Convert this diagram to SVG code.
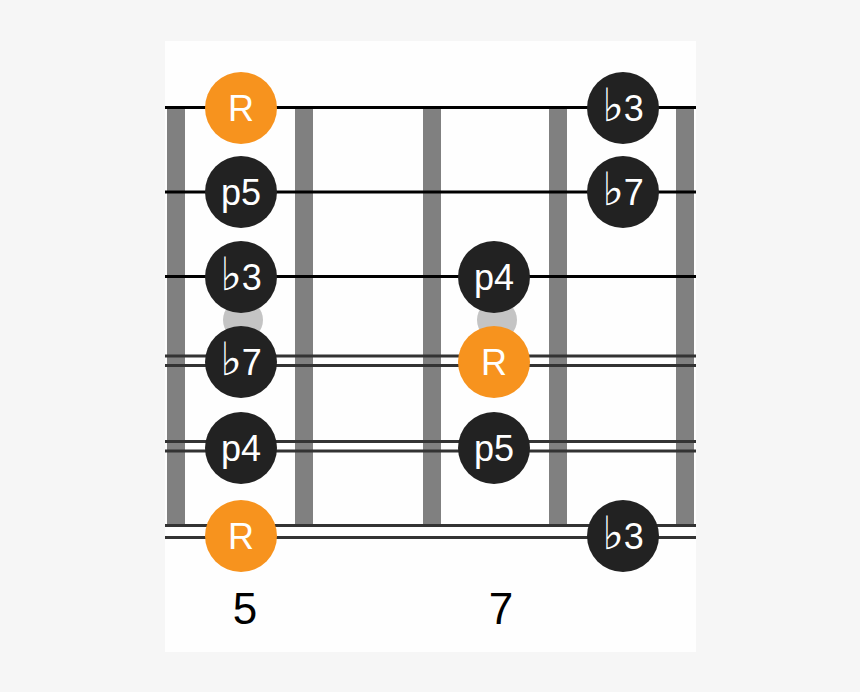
<svg xmlns="http://www.w3.org/2000/svg" width="860" height="692" viewBox="0 0 860 692">
<style>
.fret{fill:#808080}
.s{stroke:#000;stroke-width:3}
.w{stroke:#333;stroke-width:3}
.inlay{fill:#c4c4c4}
.root{fill:#f7931e}
.note{fill:#222}
.lbl{font-family:"Liberation Sans","DejaVu Sans",sans-serif;font-size:36px;fill:#fff;text-anchor:middle}
.flat{font-family:"DejaVu Sans",sans-serif;font-size:46px;fill:#fff}
.num{font-family:"Liberation Sans","DejaVu Sans",sans-serif;font-size:44px;fill:#000;text-anchor:middle}
</style>
<rect width="860" height="692" fill="#f6f6f6"/>
<rect x="165" y="41" width="531" height="611" fill="#fefefe"/>
<g id="frets">
<rect class="fret" x="167" y="107" width="18" height="418"/>
<rect class="fret" x="295" y="107" width="18" height="418"/>
<rect class="fret" x="423" y="107" width="18" height="418"/>
<rect class="fret" x="549" y="107" width="18" height="418"/>
<rect class="fret" x="676" y="107" width="18" height="418"/>
</g>
<g id="inlays">
<circle class="inlay" cx="243" cy="320" r="20"/>
<circle class="inlay" cx="497" cy="320" r="20"/>
</g>
<g id="strings">
<line class="s" x1="165" y1="107.5" x2="696" y2="107.5"/>
<line class="s" x1="165" y1="192" x2="696" y2="192"/>
<line class="s" x1="165" y1="276.5" x2="696" y2="276.5"/>
<line class="w" x1="165" y1="356" x2="696" y2="356"/>
<line class="w" x1="165" y1="365.5" x2="696" y2="365.5"/>
<line class="w" x1="165" y1="441.5" x2="696" y2="441.5"/>
<line class="w" x1="165" y1="451" x2="696" y2="451"/>
<line class="w" x1="165" y1="525.5" x2="696" y2="525.5"/>
<line class="w" x1="165" y1="537.5" x2="696" y2="537.5"/>
</g>
<g id="n1"><circle class="root" cx="241" cy="108" r="36"/><text class="lbl" x="241" y="121">R</text></g>
<g id="n2"><circle class="note" cx="241" cy="192" r="36"/><text class="lbl" x="241" y="205">p5</text></g>
<g id="n3"><circle class="note" cx="241" cy="277" r="36"/><text class="lbl" x="241" y="290"><tspan class="flat">♭</tspan>3</text></g>
<g id="n4"><circle class="note" cx="241" cy="362" r="36"/><text class="lbl" x="241" y="375"><tspan class="flat">♭</tspan>7</text></g>
<g id="n5"><circle class="note" cx="241" cy="448" r="36"/><text class="lbl" x="241" y="461">p4</text></g>
<g id="n6"><circle class="root" cx="241" cy="536" r="36"/><text class="lbl" x="241" y="549">R</text></g>
<g id="n7"><circle class="note" cx="494" cy="277" r="36"/><text class="lbl" x="494" y="290">p4</text></g>
<g id="n8"><circle class="root" cx="494" cy="362" r="36"/><text class="lbl" x="494" y="375">R</text></g>
<g id="n9"><circle class="note" cx="494" cy="448" r="36"/><text class="lbl" x="494" y="461">p5</text></g>
<g id="n10"><circle class="note" cx="623" cy="108" r="36"/><text class="lbl" x="623" y="121"><tspan class="flat">♭</tspan>3</text></g>
<g id="n11"><circle class="note" cx="623" cy="192" r="36"/><text class="lbl" x="623" y="205"><tspan class="flat">♭</tspan>7</text></g>
<g id="n12"><circle class="note" cx="623" cy="536" r="36"/><text class="lbl" x="623" y="549"><tspan class="flat">♭</tspan>3</text></g>
<g id="fretnums">
<text class="num" x="245" y="624">5</text>
<text class="num" x="501" y="624">7</text>
</g>
</svg>
